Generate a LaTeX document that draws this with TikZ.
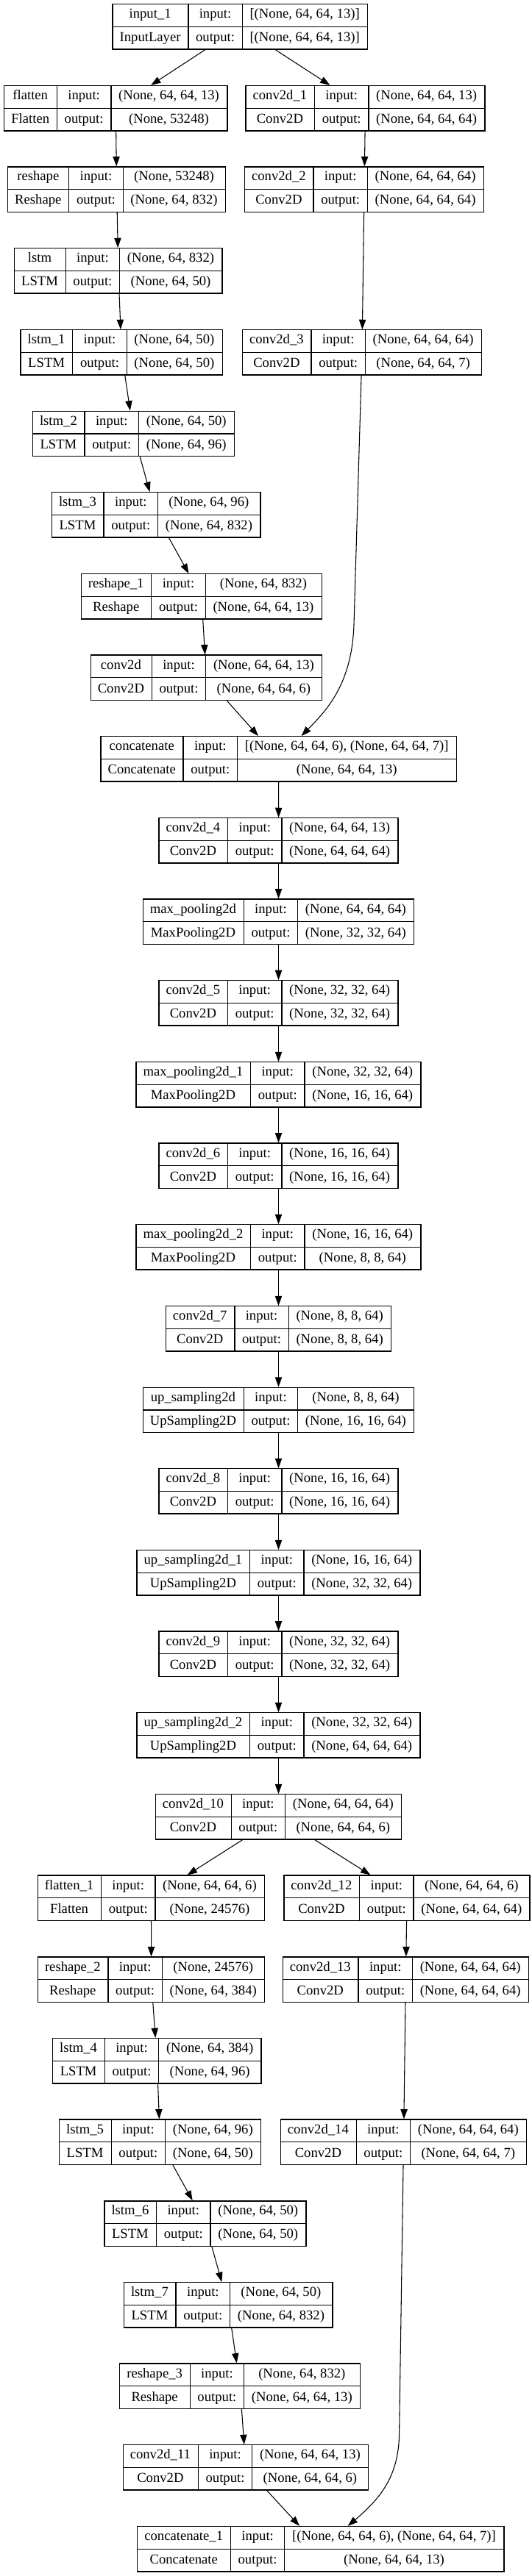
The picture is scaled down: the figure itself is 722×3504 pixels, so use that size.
\documentclass[tikz,border=0pt]{standalone}
\usepackage{fontspec}
\setmainfont{Liberation Serif}
\usetikzlibrary{arrows.meta}
\newlength\colA
\newlength\colB
\newlength\colC
\newlength\colT
\newcommand{\lf}{\fontsize{14}{16}\selectfont}
\tikzset{
  lay/.style={draw=black, line width=1pt, fill=white, inner sep=0pt,
              minimum height=46pt},
  cell/.style={font=\lf, text=black, inner sep=0pt,
               text height=9.5pt, text depth=3pt},
  sep/.style={draw=black, line width=1pt},
  edge/.style={-{Triangle[length=10pt,width=7pt]}, draw=black, line width=0.8pt},
}
% widest of two texts, plus the cell padding
\newcommand{\colwidth}[3]{%
  \pgfinterruptpicture
    \settowidth\colT{\lf #2}\global#1=\colT
    \settowidth\colT{\lf #3}\ifdim\colT>#1 \global#1=\colT\fi
  \endpgfinterruptpicture
  \global\advance#1 by 15.4pt}
% one keras layer: name, x, y, label, class, input shape, output shape
\newcommand{\layer}[7]{%
  \colwidth\colA{#4}{#5}\colwidth\colB{input:}{output:}\colwidth\colC{#6}{#7}%
  \node[lay, minimum width=\colA+\colB+\colC] (#1) at (#2,#3) {};
  \draw[sep] (#1.north west) ++(\colA,0pt) -- +(0pt,-46pt) ++(\colB,0pt) -- +(0pt,-46pt);
  \draw[sep] (#1.west) -- (#1.east);
  \node[cell] (#1-nm)  at ([xshift=0.5\colA, yshift=-11.5pt]#1.north west) {#4};
  \node[cell] (#1-cl)  at ([xshift=0.5\colA, yshift=11.5pt]#1.south west) {#5};
  \node[cell] (#1-in)  at ([xshift=\colA+0.5\colB, yshift=-11.5pt]#1.north west) {input:};
  \node[cell] (#1-out) at ([xshift=\colA+0.5\colB, yshift=11.5pt]#1.south west) {output:};
  \node[cell] (#1-ish) at ([xshift=\colA+\colB+0.5\colC, yshift=-11.5pt]#1.north west) {#6};
  \node[cell] (#1-osh) at ([xshift=\colA+\colB+0.5\colC, yshift=11.5pt]#1.south west) {#7};
}

\begin{document}
\begin{tikzpicture}[x=0.75pt, y=-0.75pt]

\fill[white] (0,0) rectangle (722,3504);
\useasboundingbox (0,0) rectangle (722,3504);

% =====================================================================
\layer{input1}{326.4}{36.5}{input\_1}{InputLayer}{[(None, 64, 64, 13)]}{[(None, 64, 64, 13)]}

\layer{flatten}{157.3}{147.2}{flatten}{Flatten}{(None, 64, 64, 13)}{(None, 53248)}
\layer{conv1}{496.5}{147.2}{conv2d\_1}{Conv2D}{(None, 64, 64, 13)}{(None, 64, 64, 64)}
\layer{reshape}{158.6}{257.5}{reshape}{Reshape}{(None, 53248)}{(None, 64, 832)}
\layer{conv2}{495}{257.5}{conv2d\_2}{Conv2D}{(None, 64, 64, 64)}{(None, 64, 64, 64)}
\layer{lstm}{160.8}{368.4}{lstm}{LSTM}{(None, 64, 832)}{(None, 64, 50)}
\layer{lstm1}{165.2}{479.4}{lstm\_1}{LSTM}{(None, 64, 50)}{(None, 64, 50)}
\layer{conv3}{492}{479.4}{conv2d\_3}{Conv2D}{(None, 64, 64, 64)}{(None, 64, 64, 7)}
\layer{lstm2}{181.5}{589.9}{lstm\_2}{LSTM}{(None, 64, 50)}{(None, 64, 96)}
\layer{lstm3}{212.2}{700.4}{lstm\_3}{LSTM}{(None, 64, 96)}{(None, 64, 832)}
\layer{reshape1}{273.8}{811.4}{reshape\_1}{Reshape}{(None, 64, 832)}{(None, 64, 64, 13)}
\layer{conv0}{280.5}{921.7}{conv2d}{Conv2D}{(None, 64, 64, 13)}{(None, 64, 64, 6)}
\layer{concat}{378.8}{1032.4}{concatenate}{Concatenate}{[(None, 64, 64, 6), (None, 64, 64, 7)]}{(None, 64, 64, 13)}

% =====================================================================
\layer{conv4}{378.5}{1143.4}{conv2d\_4}{Conv2D}{(None, 64, 64, 13)}{(None, 64, 64, 64)}
\layer{pool}{378.5}{1253.7}{max\_pooling2d}{MaxPooling2D}{(None, 64, 64, 64)}{(None, 32, 32, 64)}
\layer{conv5}{378.5}{1364.4}{conv2d\_5}{Conv2D}{(None, 32, 32, 64)}{(None, 32, 32, 64)}
\layer{pool1}{378.5}{1475.4}{max\_pooling2d\_1}{MaxPooling2D}{(None, 32, 32, 64)}{(None, 16, 16, 64)}
\layer{conv6}{378.5}{1585.7}{conv2d\_6}{Conv2D}{(None, 16, 16, 64)}{(None, 16, 16, 64)}
\layer{pool2}{378.5}{1696.4}{max\_pooling2d\_2}{MaxPooling2D}{(None, 16, 16, 64)}{(None, 8, 8, 64)}
\layer{conv7}{378.5}{1807.4}{conv2d\_7}{Conv2D}{(None, 8, 8, 64)}{(None, 8, 8, 64)}
\layer{up}{378.5}{1917.9}{up\_sampling2d}{UpSampling2D}{(None, 8, 8, 64)}{(None, 16, 16, 64)}
\layer{conv8}{378.5}{2028.4}{conv2d\_8}{Conv2D}{(None, 16, 16, 64)}{(None, 16, 16, 64)}
\layer{up1}{378.5}{2139.4}{up\_sampling2d\_1}{UpSampling2D}{(None, 16, 16, 64)}{(None, 32, 32, 64)}
\layer{conv9}{378.5}{2249.8}{conv2d\_9}{Conv2D}{(None, 32, 32, 64)}{(None, 32, 32, 64)}
\layer{up2}{378.5}{2360.4}{up\_sampling2d\_2}{UpSampling2D}{(None, 32, 32, 64)}{(None, 64, 64, 64)}
\layer{conv10}{378.5}{2471.4}{conv2d\_10}{Conv2D}{(None, 64, 64, 64)}{(None, 64, 64, 6)}

% =====================================================================
\layer{flatten1}{205.5}{2581.7}{flatten\_1}{Flatten}{(None, 64, 64, 6)}{(None, 24576)}
\layer{conv12}{553}{2581.7}{conv2d\_12}{Conv2D}{(None, 64, 64, 6)}{(None, 64, 64, 64)}
\layer{reshape2}{205.6}{2692.7}{reshape\_2}{Reshape}{(None, 24576)}{(None, 64, 384)}
\layer{conv13}{551.4}{2692.7}{conv2d\_13}{Conv2D}{(None, 64, 64, 64)}{(None, 64, 64, 64)}
\layer{lstm4}{213.4}{2803.4}{lstm\_4}{LSTM}{(None, 64, 384)}{(None, 64, 96)}
\layer{lstm5}{217.6}{2913.7}{lstm\_5}{LSTM}{(None, 64, 96)}{(None, 64, 50)}
\layer{conv14}{548.5}{2913.7}{conv2d\_14}{Conv2D}{(None, 64, 64, 64)}{(None, 64, 64, 7)}
\layer{lstm6}{279}{3024.5}{lstm\_6}{LSTM}{(None, 64, 50)}{(None, 64, 50)}
\layer{lstm7}{310.2}{3135.4}{lstm\_7}{LSTM}{(None, 64, 50)}{(None, 64, 832)}
\layer{reshape3}{326.2}{3245.7}{reshape\_3}{Reshape}{(None, 64, 832)}{(None, 64, 64, 13)}
\layer{conv11}{334}{3356.4}{conv2d\_11}{Conv2D}{(None, 64, 64, 13)}{(None, 64, 64, 6)}
\layer{concat1}{435.8}{3467.2}{concatenate\_1}{Concatenate}{[(None, 64, 64, 6), (None, 64, 64, 7)]}{(None, 64, 64, 13)}

% =====================================================================
\foreach \a/\b in {input1/flatten, input1/conv1, flatten/reshape, reshape/lstm,
    lstm/lstm1, lstm1/lstm2, lstm2/lstm3, lstm3/reshape1, reshape1/conv0,
    conv0/concat, conv1/conv2, conv2/conv3, concat/conv4, conv4/pool,
    pool/conv5, conv5/pool1, pool1/conv6, conv6/pool2, pool2/conv7,
    conv7/up, up/conv8, conv8/up1, up1/conv9, conv9/up2, up2/conv10,
    conv10/flatten1, conv10/conv12, flatten1/reshape2, reshape2/lstm4,
    lstm4/lstm5, lstm5/lstm6, lstm6/lstm7, lstm7/reshape3, reshape3/conv11,
    conv11/concat1, conv12/conv13, conv13/conv14}
  \draw[edge] (\a) -- (\b);

% the two long skips into the concatenations
\draw[edge] (conv3) -- (481,850) .. controls (478,930) and (445,965) .. (concat);
\draw[edge] (conv14) -- (542.6,3310) .. controls (542,3370) and (515,3400) .. (concat1);

\end{tikzpicture}
\end{document}
